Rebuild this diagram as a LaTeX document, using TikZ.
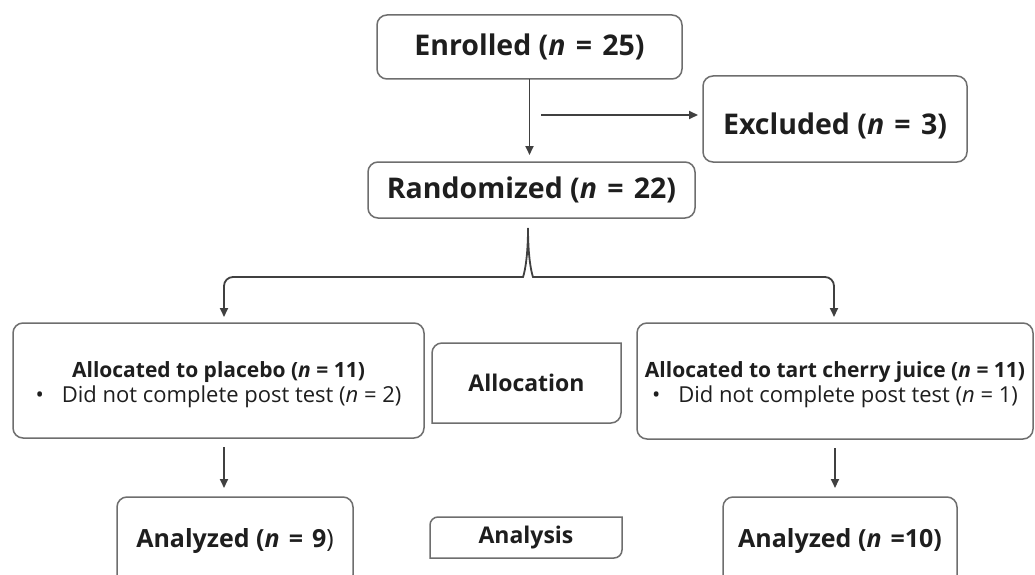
\documentclass[tikz,border=0pt]{standalone}
\usepackage{fontspec}
\setmainfont{Open Sans}
\usetikzlibrary{arrows.meta}
\definecolor{bordc}{HTML}{6E6E6E}
\definecolor{arrc}{HTML}{404040}
\definecolor{txtc}{HTML}{1E1E1E}
\newcommand\eqs{\hspace{0.36em}=\hspace{0.36em}}
\begin{document}
\begin{tikzpicture}[x=1pt,y=1pt,
  box/.style={draw=bordc, line width=1.5pt, rounded corners=10pt, inner sep=0pt, outer sep=0pt, align=center, text=txtc},
  plainbox/.style={inner sep=0pt, outer sep=0pt, align=center, text=txtc},
  bigtxt/.style={font=\fontsize{28.5}{34}\selectfont\bfseries},
  antxt/.style={font=\fontsize{25}{30}\selectfont\bfseries},
  labtxt/.style={font=\fontsize{23}{28}\selectfont\bfseries},
  grptxt/.style={font=\fontsize{21}{24}\selectfont},
  arr/.style={draw=arrc, line width=1.8pt, -{Triangle[length=9pt,width=8pt]}},
  bord/.style={draw=bordc, line width=1.5pt}
]
\clip (0,0) rectangle (1035,-575);
\fill[white] (0,0) rectangle (1035,-575);

\node[box,bigtxt,minimum width=305pt,minimum height=64pt] (enr) at (529.5,-47) {Enrolled (\textit{n}\eqs25)};
\node[box,bigtxt,minimum width=264pt,minimum height=86pt,text height=40pt,text depth=8pt] (exc) at (835,-119) {Excluded (\textit{n}\eqs3)};
\node[box,bigtxt,minimum width=327pt,minimum height=56pt] (ran) at (531.5,-190) {Randomized (\textit{n}\eqs22)};

\node[box,minimum width=411pt,minimum height=115pt] (pla) at (218.5,-380.5) {};
\node[plainbox,grptxt] (plat) at ([yshift=-4pt]pla.center)
  {{\bfseries Allocated to placebo (\textit{n} = 11)}\\[1pt]
   {\fontsize{22}{24}\selectfont\textbullet\hspace{18pt}Did not complete post test (\textit{n} = 2)}};
\node[box,minimum width=396pt,minimum height=116pt] (che) at (835,-381) {};
\node[plainbox,grptxt] (chet) at ([yshift=-4pt]che.center)
  {{\bfseries Allocated to tart cherry juice (\textit{n} = 11)}\\[1pt]
   {\fontsize{22}{24}\selectfont\textbullet\hspace{18pt}Did not complete post test (\textit{n} = 1)}};

\node[plainbox,labtxt,minimum width=189pt,minimum height=80pt] (alc) at (526.5,-383) {Allocation};
\draw[bord] (alc.south west) -- ([yshift=-10pt]alc.north west) arc[start angle=180,end angle=90,radius=10pt]
  -- (alc.north east) -- ([yshift=10pt]alc.south east) arc[start angle=0,end angle=-90,radius=10pt] -- cycle;

\node[box,antxt,minimum width=236pt,minimum height=88pt] (anl) at (235,-541) {Analyzed (\textit{n}\eqs9{\mdseries )}};
\node[box,antxt,minimum width=234pt,minimum height=88pt] (anr) at (840,-541) {Analyzed (\textit{n}\hspace{0.36em}=10)};

\node[plainbox,labtxt,minimum width=192pt,minimum height=41pt] (ana) at (526,-537.5) {Analysis};
\draw[bord] (ana.south west) -- ([yshift=-8pt]ana.north west) arc[start angle=180,end angle=90,radius=8pt]
  -- (ana.north east) -- ([yshift=8pt]ana.south east) arc[start angle=0,end angle=-90,radius=8pt] -- cycle;

% connectors
\coordinate (exs) at (541,-115);
\coordinate (br) at (528,-228);
\coordinate (lk) at (224,-277);
\coordinate (rk) at (834,-277);
\coordinate (colL) at (224,0);
\coordinate (colR) at (835,0);

\draw[arr,shorten >=7pt] (enr.south) -- (enr.south |- ran.north);
\draw[arr,shorten >=5pt] (exs) -- (exs -| exc.west);

\draw[arr,rounded corners=9pt,shorten >=6pt] (br) .. controls (528,-264) and (523,-277) .. (514,-277) -- (lk) -- (lk |- pla.north);
\draw[arr,rounded corners=9pt,shorten >=6pt] (br) .. controls (528,-264) and (533,-277) .. (542,-277) -- (rk) -- (rk |- che.north);

\draw[arr,shorten <=9pt,shorten >=9pt] (pla.south -| colL) -- (anl.north -| colL);
\draw[arr,shorten <=9pt,shorten >=9pt] (che.south -| colR) -- (anr.north -| colR);
\end{tikzpicture}
\end{document}
